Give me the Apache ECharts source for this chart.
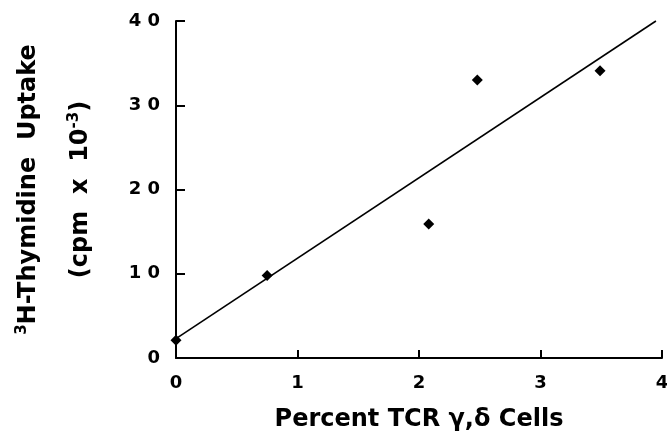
<!DOCTYPE html>
<html>
<head>
<meta charset="utf-8">
<script src="https://cdn.jsdelivr.net/npm/echarts@6/dist/echarts.min.js"></script>
<style>
  html, body { margin: 0; padding: 0; background: #fff; }
  #main { width: 667px; height: 436px; }
</style>
</head>
<body>
<div id="main"></div>
<script>
// measured points: percent TCR gamma/delta cells vs uptake (cpm x 10^-3)
const pointX = [0, 0.75, 2.08, 2.48, 3.49];
const pointY = [2.1, 9.8, 15.9, 33.0, 34.1];

// fitted line, drawn end to end as in the figure
const fitX = [0, 3.95];
const fitY = [2.3, 40];

const xTickLabels = ["0", "1", "2", "3", "4"];
const yTickLabels = ["0", "1 0", "2 0", "3 0", "4 0"];

const chart = echarts.init(document.getElementById("main"));

const axisFont = {
  color: "#000",
  fontFamily: "DejaVu Sans",
  fontWeight: "bold",
  fontSize: 18,
};

const options = {
  backgroundColor: "#fff",
  animation: false,
  grid: {
    left: 176,
    right: 5,
    top: 21,
    bottom: 78,
    containLabel: false,
    outerBoundsMode: "none",
  },
  xAxis: {
    type: "value",
    min: 0,
    max: 4,
    interval: 1,
    splitLine: { show: false },
    axisLine: { lineStyle: { color: "#000", width: 2 } },
    axisTick: { inside: true, length: 8, lineStyle: { color: "#000", width: 2 } },
    axisLabel: {
      ...axisFont,
      margin: 16,
      formatter: (v) => xTickLabels[Math.round(v)],
    },
    name: "Percent TCR \u03b3,\u03b4 Cells",
    nameLocation: "middle",
    nameGap: 50,
    nameTextStyle: {
      color: "#000",
      fontFamily: "DejaVu Sans",
      fontWeight: "bold",
      fontSize: 24,
    },
  },
  yAxis: {
    type: "value",
    min: 0,
    max: 40,
    interval: 10,
    splitLine: { show: false },
    axisLine: { show: true, lineStyle: { color: "#000", width: 2 } },
    axisTick: { show: true, inside: true, length: 9, lineStyle: { color: "#000", width: 2 } },
    axisLabel: {
      ...axisFont,
      margin: 16,
      formatter: (v) => yTickLabels[Math.round(v / 10)],
    },
    name: "{sup|3}{b|H-Thymidine  Uptake}\n{b|(cpm  x  10}{sup|-3}{b|)}",
    nameLocation: "middle",
    nameGap: 69,
    nameTextStyle: {
      rich: {
        b: {
          color: "#000",
          fontFamily: "DejaVu Sans",
          fontWeight: "bold",
          fontSize: 24,
          lineHeight: 52,
        },
        sup: {
          color: "#000",
          fontFamily: "DejaVu Sans",
          fontWeight: "bold",
          fontSize: 15,
          lineHeight: 15,
          padding: [0, 0, 14, 0],
        },
      },
    },
  },
  series: [
    {
      type: "line",
      data: fitX.map((x, i) => [x, fitY[i]]),
      symbol: "none",
      clip: false,
      lineStyle: { color: "#000", width: 1.6 },
      z: 2,
    },
    {
      type: "scatter",
      data: pointX.map((x, i) => [x, pointY[i]]),
      symbol: "diamond",
      symbolSize: 11,
      itemStyle: { color: "#000", opacity: 1 },
      z: 3,
    },
  ],
};

chart.setOption(options);
</script>
</body>
</html>
